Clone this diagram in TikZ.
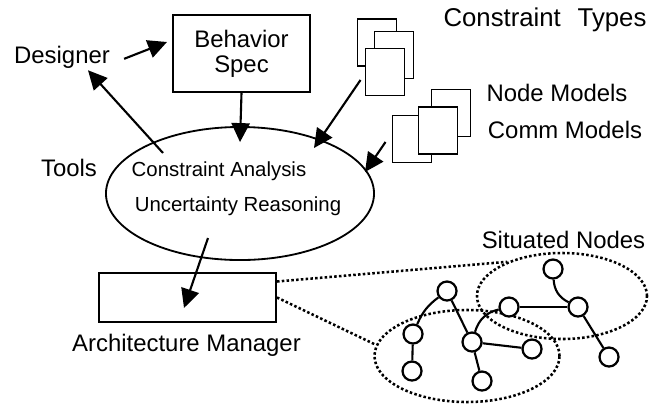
\documentclass[tikz,border=0pt]{standalone}
\usepackage{fontspec}
\setmainfont{Liberation Sans}
\usetikzlibrary{arrows.meta, shapes.geometric}

\begin{document}
\begin{tikzpicture}[x=0.025cm, y=-0.025cm,
		txt/.style={anchor=base, inner sep=0pt, font=\fontsize{17}{17.7}\selectfont},
		small/.style={anchor=base, inner sep=0pt, font=\fontsize{14.5}{16}\selectfont},
		page/.style={draw, rectangle, fill=white, line width=1.4pt, minimum width=0.975cm, minimum height=1.175cm},
		circ/.style={draw, circle, fill=white, line width=1.6pt, minimum size=0.475cm, inner sep=0pt},
		zoomed/.style={draw, ellipse, line width=1.8pt, dash pattern=on 1.8pt off 1.6pt},
		zoomline/.style={line width=1.8pt, dash pattern=on 1.8pt off 1.6pt},
		link/.style={line width=1.5pt},
		arrowline/.style={->, >={Triangle[length=13.5pt, width=13pt]}, line width=1.5pt}]
	\useasboundingbox (0, 0) rectangle (662, 404);
	\node[txt] (Designer)at(62, 63) {Designer};
	\node[draw, rectangle, line width=1.4pt, minimum width=3.425cm, minimum height=1.925cm, align=center, inner sep=0pt, font=\fontsize{17}{17.7}\selectfont] (Spec)at(241.5, 53.5) {Behavior\\Spec};
	\node[draw, ellipse, line width=1.3pt, minimum width=6.7cm, minimum height=3.325cm] (Reason)at(240, 193.5) {};
	\node[txt] (Tools)at(69, 176) {Tools};
	\node[small] (Analysis)at(219, 176) {Constraint Analysis};
	\node[small] (Uncert)at(238, 211) {Uncertainty Reasoning};
	\node[page] (CT1)at(377, 42.5) {};
	\node[page] (CT2)at(394, 55) {};
	\node[page] (CT3)at(385, 72) {};
	\node[txt, font=\fontsize{18.3}{20}\selectfont] (Types)at(545, 26) {Constraint\hspace{12pt}Types};
	\node[page] (NM1)at(451, 113) {};
	\node[page] (NM2)at(412, 139) {};
	\node[page] (NM3)at(438, 130.5) {};
	\node[txt] (NodeMod)at(557, 101.7) {Node Models};
	\node[txt] (CommMod)at(565, 138.3) {Comm Models};
	\node[draw, rectangle, line width=1.4pt, minimum width=4.425cm, minimum height=1.225cm] (Arch)at(187.5, 297.5) {};
	\node[txt] (ArchMan)at(186.5, 351.7) {Architecture Manager};
	\node[txt] (Situated)at(563.5, 248.3) {Situated Nodes};
	\node[zoomed, minimum width=4.25cm, minimum height=2.15cm] (ZoomR)at(562, 296) {};
	\node[zoomed, minimum width=4.625cm, minimum height=2.3cm] (ZoomL)at(467, 356) {};
	\draw[zoomline] ([shift={(0, -16)}]Arch.east) -- (ZoomR.148);
	\draw[zoomline] (Arch.east) -- (ZoomL.173);
	\node[circ] (N1)at(447, 291) {};
	\node[circ] (N2)at(413, 334) {};
	\node[circ] (N3)at(412, 371) {};
	\node[circ] (N4)at(472, 342) {};
	\node[circ] (N5)at(482, 381) {};
	\node[circ] (N6)at(509, 307) {};
	\node[circ] (N7)at(532, 349) {};
	\node[circ] (N8)at(553, 269) {};
	\node[circ] (N9)at(578, 307) {};
	\node[circ] (N10)at(609, 357) {};
	\draw[link] (N1) to[bend right=15] (N2);
	\draw[link] (N2) -- (N3);
	\draw[link] (N1) -- (N4);
	\draw[link] (N4) -- (N5);
	\draw[link] (N4) to[bend left=30] (N6);
	\draw[link] (N4) -- (N7);
	\draw[link] (N6) -- (N9);
	\draw[link] (N8) to[bend right=30] (N9);
	\draw[link] (N9) -- (N10);
	\draw[arrowline] ([shift={(14, 2)}]Designer.east) -- ([shift={(-5, -11.5)}]Spec.west);
	\draw[arrowline] ([shift={(-77, -40.5)}]Reason.center) -- ([shift={(26, 2)}]Designer.south);
	\draw[arrowline] (Spec.south) -- ([shift={(0, 16)}]Reason.north);
	\draw[arrowline] ([shift={(-4, 8)}]CT3.west) -- ([shift={(74, -45.5)}]Reason.center);
	\draw[arrowline] ([shift={(-6, 3)}]NM2.west) -- ([shift={(125, -21.5)}]Reason.center);
	\draw[arrowline] ([shift={(-32, 44.5)}]Reason.center) -- ([shift={(-3.5, 10.5)}]Arch.center);
\end{tikzpicture}
\end{document}
